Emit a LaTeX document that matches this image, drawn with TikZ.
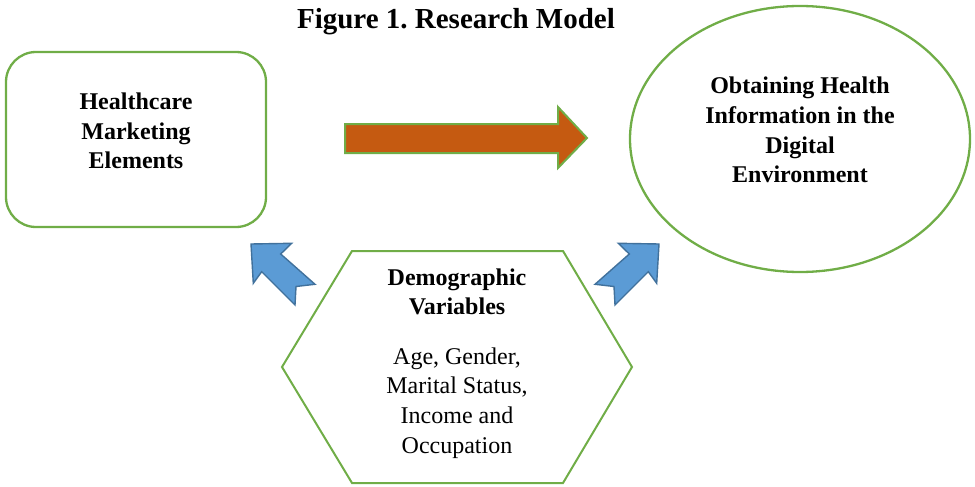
\documentclass[tikz,border=0pt]{standalone}
\usepackage{fontspec}
\setmainfont{Liberation Serif}
\definecolor{grn}{HTML}{70AD47}
\definecolor{orn}{HTML}{C55A11}
\definecolor{blu}{HTML}{5B9BD5}
\definecolor{blud}{HTML}{41719C}
\begin{document}
\frenchspacing
\begin{tikzpicture}[x=1pt,y=-1pt,
  gline/.style={draw=grn, line width=2.3pt},
  lbl/.style={align=center, font=\fontsize{24}{29.7}\selectfont, inner sep=0pt},
  blbl/.style={align=center, font=\fontsize{24}{29.7}\selectfont\bfseries, inner sep=0pt},
  bigarrow/.style={fill=orn, draw=grn, line width=2pt, line join=miter},
  bluearrow/.style={fill=blu, draw=blud, line width=1.4pt, line join=miter}]
\useasboundingbox (0,0) rectangle (975,487);
% title
\node[font=\fontsize{29}{34}\selectfont\bfseries, inner sep=0pt] (title) at (456,22) {Figure 1. Research Model};
% left rounded box
\draw[gline, rounded corners=30pt] (6,52) rectangle (266,227);
\node[blbl] (hme) at (136,131) {Healthcare\\Marketing\\Elements};
% ellipse
\draw[gline] (800,139) ellipse [x radius=170, y radius=133];
\node[blbl] (ohi) at (800,130) {Obtaining Health\\Information in the\\Digital\\Environment};
% big orange arrow
\draw[bigarrow] (345,124) -- (558,124) -- (558,107) -- (587,138) -- (558,168) -- (558,153) -- (345,153) -- cycle;
% hexagon
\draw[gline, line width=2pt, line join=miter] (352,251) -- (563,251) -- (632,367) -- (563,483) -- (352,483) -- (282,367) -- cycle;
\node[blbl] (demo) at (457,292) {Demographic\\Variables};
\node[lbl] (vars) at (457,403) {Age, Gender,\\Marital Status,\\Income and\\Occupation};
% blue arrows
\draw[bluearrow] (251,244) -- (291.7,243.3) -- (280.7,254) -- (315,284.3) -- (296,286.5) -- (295,305) -- (261.7,271.7) -- (253.3,283.3) -- cycle;
\draw[bluearrow] (659,244) -- (618.3,243.3) -- (629.3,254) -- (595,284.3) -- (614,286.5) -- (615,305) -- (648.3,271.7) -- (656.7,283.3) -- cycle;
\end{tikzpicture}
\end{document}
